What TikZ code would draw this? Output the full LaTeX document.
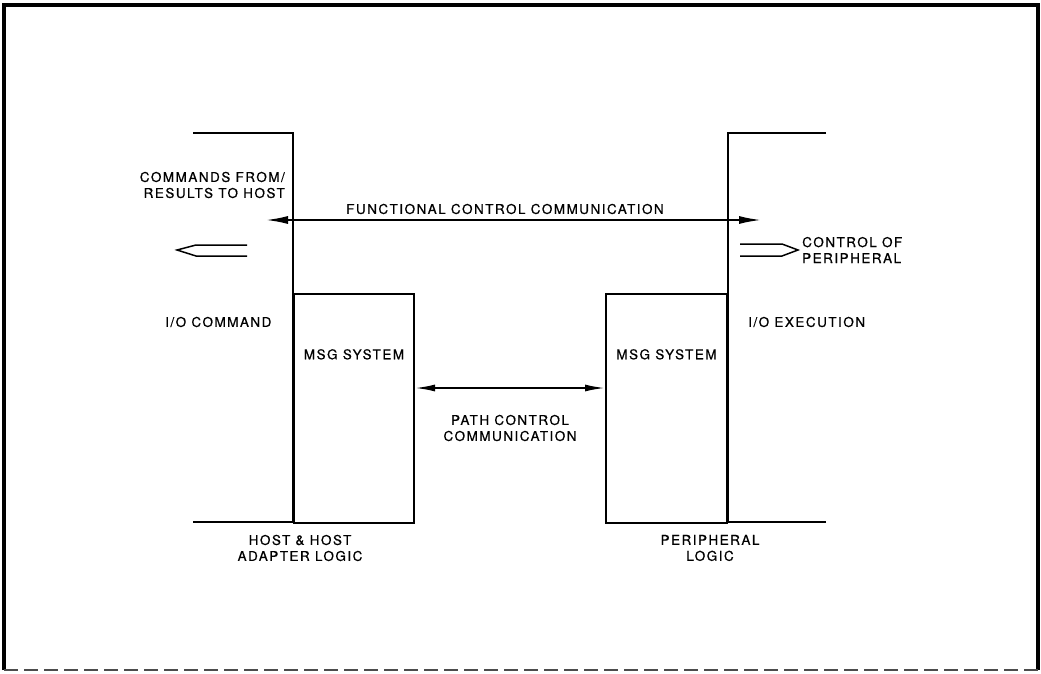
\documentclass[tikz,border=0pt]{standalone}
\usepackage{fontspec}
\usepackage{tikz}
\usetikzlibrary{positioning, arrows.meta}
\newfontfamily\labelfont[LetterSpace=11, FakeBold=0.6]{TeX Gyre Heros}

\begin{document}
\begin{tikzpicture}[
    x=1pt, y=-1pt,
    every node/.style={font=\labelfont\fontsize{13.5}{16}\selectfont, inner sep=0pt, align=center},
    wall/.style={draw=black, line width=2pt},
    msgbox/.style={draw=black, line width=2pt, minimum width=120pt, minimum height=229pt},
    ctrl/.style={draw=black, line width=1.8pt, {Latex[length=22pt, width=8pt]}-{Latex[length=22pt, width=8pt]}},
    outarrow/.style={draw=black, line width=1.5pt, line join=miter}
]

% Frame
\useasboundingbox (0,0) rectangle (1041,674);
\draw[line width=3.2pt] (4,670) -- (4,5) -- (1038,5) -- (1038,670);
\draw[line width=2.4pt, black!70, dash pattern=on 14pt off 6pt] (4,670) -- (1038,670);

% Host side
\coordinate (hostTop) at (193,133);
\coordinate (hostCorner) at (293,133);
\coordinate (hostFoot) at (293,522);
\coordinate (hostBase) at (193,522);
\draw[wall] (hostTop) -- (hostCorner) -- (hostFoot);
\draw[wall] (hostBase) -- (hostFoot);
\node[msgbox, anchor=north west] (msgL) at (293,293) {};

% Peripheral side
\coordinate (periTop) at (826,133);
\coordinate (periCorner) at (728,133);
\coordinate (periFoot) at (728,522);
\coordinate (periBase) at (826,522);
\draw[wall] (periTop) -- (periCorner) -- (periFoot);
\draw[wall] (periBase) -- (periFoot);
\node[msgbox, anchor=north east, minimum width=121pt] (msgR) at (728,293) {};

% Labels
\node[anchor=east, align=right] (cmds) at (285,185) {COMMANDS FROM/\\RESULTS TO HOST};
\node (func) at (505,209) {FUNCTIONAL CONTROL COMMUNICATION};
\node[anchor=west, align=left] (periph) at (802,250) {CONTROL OF\\PERIPHERAL};
\node[anchor=west] (iocmd) at (165,322) {I/O COMMAND};
\node[anchor=west] (ioexe) at (748,322) {I/O EXECUTION};
\node[below=56pt of msgL.north] (msgLtxt) {MSG SYSTEM};
\node[below=56pt of msgR.north] (msgRtxt) {MSG SYSTEM};
\node (path) at (510,428) {PATH CONTROL\\COMMUNICATION};
\node (hostlogic) at (300,548) {HOST \& HOST\\ADAPTER LOGIC};
\node (perilogic) at (710,548) {PERIPHERAL\\LOGIC};

% Communication paths
\coordinate (funcL) at (266,220);
\coordinate (funcR) at (761,220);
\draw[ctrl] (funcL) -- (funcR);
\draw[ctrl, {Latex[length=20pt, width=7pt]}-{Latex[length=20pt, width=7pt]}] (msgL.east |- 0,388) -- (msgR.west |- 0,388);

% Double arrows
\coordinate (outL) at (177,250);
\coordinate (outR) at (798,250);
\draw[outarrow] (247,245) -- (196,245) -- (outL) -- (196,256) -- (247,256);
\draw[outarrow] (740,244) -- (782,244) -- (outR) -- (782,256) -- (740,256);

\end{tikzpicture}
\end{document}
